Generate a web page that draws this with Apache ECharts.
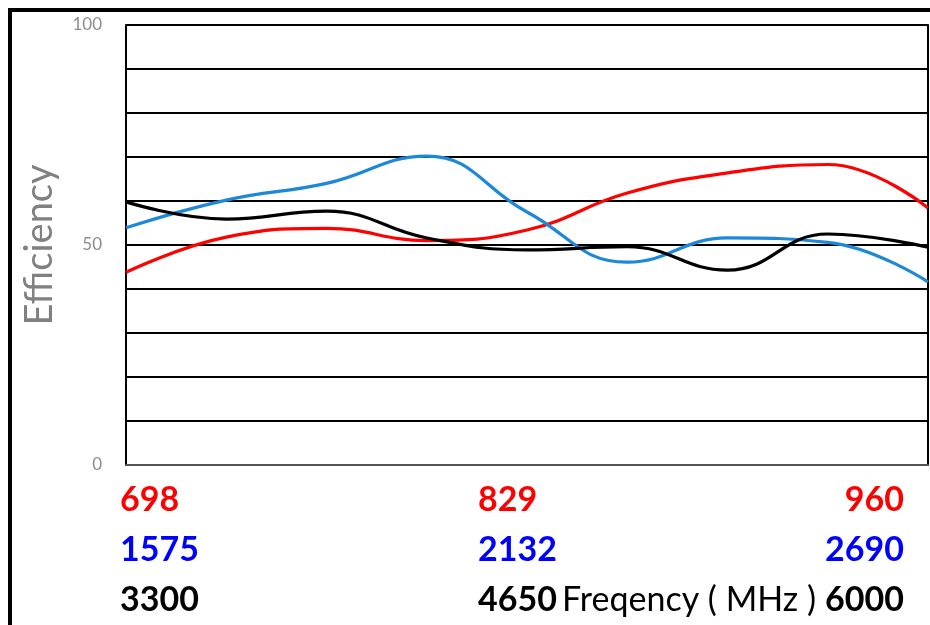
<!DOCTYPE html>
<html>
<head>
<meta charset="utf-8">
<script src="https://cdn.jsdelivr.net/npm/echarts@6/dist/echarts.min.js"></script>
<style>
html,body{margin:0;padding:0;background:#fff;}
#chart{width:930px;height:625px;}
</style>
</head>
<body>
<div id="chart"></div>
<script>
// sample points along the frequency bands (9 evenly spaced points)
const samplePoints = ['0','1','2','3','4','5','6','7','8'];
// band tick labels shown at the first, middle and last sample points
const labelIndices = [0, 4, 8];
const redBandLabels = ['698', '829', '960'];
const blueBandLabels = ['1575', '2132', '2690'];
const blackBandLabels = ['3300', '4650', '6000'];
// efficiency (%) values
const redValues   = [43.8, 51.8, 53.8, 51.0, 53.4, 61.8, 66.4, 68.3, 58.4];
const blueValues  = [53.9, 60.2, 64.0, 70.2, 57.5, 46.1, 51.6, 50.6, 41.6];
const blackValues = [59.8, 55.9, 57.7, 51.6, 48.9, 49.6, 44.3, 52.5, 49.5];
const yTickLabels = ['0', '50', '100'];
const xAxisTitle = 'Freqency ( MHz )';
const yAxisTitle = 'Efficiency';

const FONT = 'Lato';
const chart = echarts.init(document.getElementById('chart'), null, {renderer: 'canvas'});

const xData = samplePoints.map((v, i) => {
  const pos = labelIndices.indexOf(i);
  if (pos === 0) return {value: v, textStyle: {align: 'left', padding: [0, 0, 0, -6]}};
  if (pos === 1) return {value: v, textStyle: {align: 'center'}};
  if (pos === 2) return {value: v, textStyle: {align: 'right', padding: [0, 24, 0, 0]}};
  return v;
});

const baseRich = {fontFamily: FONT, fontWeight: 'bold', fontSize: 34, lineHeight: 50};
const rich = {
  rL: Object.assign({}, baseRich, {color: '#ff0000', align: 'left'}),
  bL: Object.assign({}, baseRich, {color: '#0000ff', align: 'left'}),
  kL: Object.assign({}, baseRich, {color: '#000000', align: 'left'}),
  rM: Object.assign({}, baseRich, {color: '#ff0000', align: 'left', width: 98}),
  bM: Object.assign({}, baseRich, {color: '#0000ff', align: 'left', width: 98}),
  kM: Object.assign({}, baseRich, {color: '#000000', align: 'left', width: 98}),
  rR: Object.assign({}, baseRich, {color: '#ff0000', align: 'right'}),
  bR: Object.assign({}, baseRich, {color: '#0000ff', align: 'right'}),
  kR: Object.assign({}, baseRich, {color: '#000000', align: 'right'})
};

const option = {
  backgroundColor: '#fff',
  animation: false,
  textStyle: {fontFamily: FONT},
  graphic: [{
    type: 'rect',
    shape: {x: 10, y: 10, width: 960, height: 660},
    style: {fill: 'none', stroke: '#000', lineWidth: 4},
    silent: true, z: 100
  }],
  grid: {left: 126, right: 2, top: 25, bottom: 160, containLabel: false, outerBoundsMode: 'none'},
  xAxis: {
    type: 'category',
    boundaryGap: false,
    data: xData,
    axisLine: {show: true, lineStyle: {color: '#555', width: 2}},
    axisTick: {show: false},
    splitLine: {show: false},
    axisLabel: {
      interval: (idx) => labelIndices.indexOf(idx) >= 0,
      margin: 10,
      formatter: (value, idx) => {
        const pos = labelIndices.indexOf(idx);
        if (pos < 0) return '';
        const s = ['L', 'M', 'R'][pos];
        return '{r' + s + '|' + redBandLabels[pos] + '}\n{b' + s + '|' + blueBandLabels[pos] + '}\n{k' + s + '|' + blackBandLabels[pos] + '}';
      },
      rich: rich
    },
    name: xAxisTitle,
    nameLocation: 'middle',
    nameGap: 110,
    nameMoveOverlap: false,
    nameTextStyle: {
      fontFamily: FONT, fontSize: 34, color: '#000', lineHeight: 50,
      padding: [0, 0, 0, 324]
    }
  },
  yAxis: [{
    type: 'value',
    min: 0, max: 100, interval: 10,
    axisLine: {show: true, lineStyle: {color: '#000', width: 2}},
    axisTick: {show: false},
    splitLine: {show: true, lineStyle: {color: '#000', width: 2}},
    axisLabel: {
      margin: 24,
      color: '#8c8c8c',
      fontSize: 17,
      fontFamily: FONT,
      formatter: (v) => yTickLabels.indexOf(String(v)) >= 0 ? String(v) : ''
    },
    name: yAxisTitle,
    nameLocation: 'middle',
    nameGap: 67,
    nameMoveOverlap: false,
    nameTextStyle: {fontFamily: FONT, fontSize: 38, color: '#808080'}
  }, {
    type: 'value',
    position: 'right',
    min: 0, max: 100, interval: 10,
    axisLine: {show: true, lineStyle: {color: '#000', width: 2}},
    axisTick: {show: false},
    axisLabel: {show: false},
    splitLine: {show: false}
  }],
  series: [
    {type: 'line', name: 'red', data: redValues, smooth: 0.45, showSymbol: false,
     lineStyle: {color: '#ff0000', width: 3.2}, itemStyle: {color: '#ff0000'}},
    {type: 'line', name: 'blue', data: blueValues, smooth: 0.45, showSymbol: false,
     lineStyle: {color: '#1e88d8', width: 3.2}, itemStyle: {color: '#1e88d8'}},
    {type: 'line', name: 'black', data: blackValues, smooth: 0.45, showSymbol: false,
     lineStyle: {color: '#000000', width: 3.2}, itemStyle: {color: '#000000'}}
  ]
};
chart.setOption(option);
</script>
</body>
</html>
